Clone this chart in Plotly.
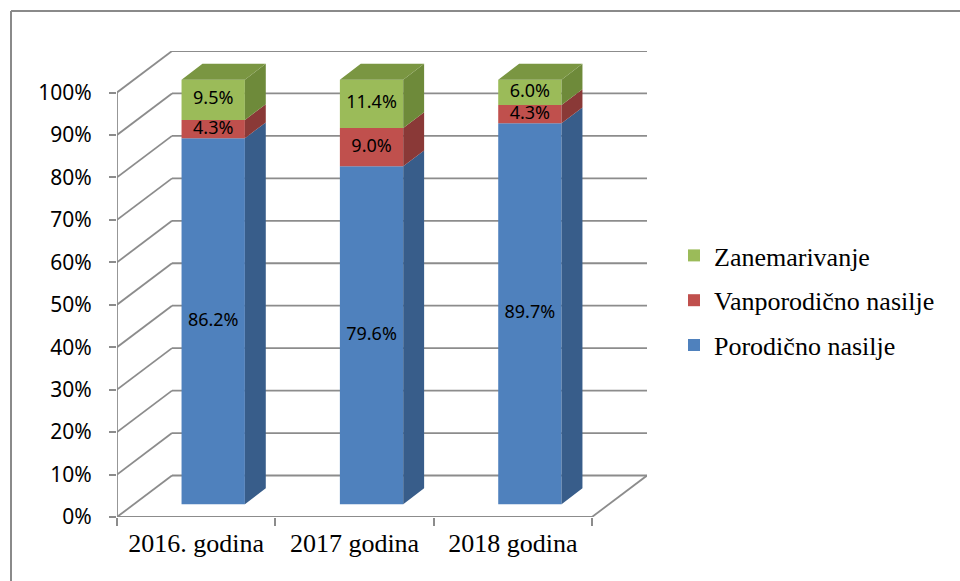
import plotly.graph_objects as go

# ---------------- data ----------------
categories = ["2016. godina", "2017 godina", "2018 godina"]
series_names = ["Porodično nasilje", "Vanporodično nasilje", "Zanemarivanje"]
porodicno = [86.2, 79.6, 89.7]
vanporodicno = [4.3, 9.0, 4.3]
zanemarivanje = [9.5, 11.4, 6.0]
y_ticks = [0, 10, 20, 30, 40, 50, 60, 70, 80, 90, 100]
y_tick_labels = ["0%", "10%", "20%", "30%", "40%", "50%", "60%", "70%", "80%", "90%", "100%"]

series_values = [porodicno, vanporodicno, zanemarivanje]
front_colors = ["#4F81BD", "#C0504D", "#9BBB59"]
side_colors = ["#385D8A", "#8A3937", "#6E8A3A"]
top_color = "#7A9642"
grid_color = "#8C8C8C"

# ---------------- geometry (pixels) ----------------
W, H = 960, 581
ML, MR, MT, MB = 117, 313, 51, 64
PW, PH = W - ML - MR, H - MT - MB
DEPTH_X, DEPTH_Y = 55, 41.5          # oblique depth of the 3-D box
n = len(categories)
cat_px = (PW - DEPTH_X) / n
pct_px = (PH - DEPTH_Y) / 100.0
ux = DEPTH_X / cat_px                 # depth in x data units
uy = DEPTH_Y / pct_px                 # depth in y data units
x_range = [-0.5, n - 0.5 + ux]
y_range = [0, 100 + uy]
FRONT, BACK = 0.31, 0.69              # bar depth position (fraction of box depth)
BAR_W = 0.4

fig = go.Figure()

# front faces (real bars)
bases = [[0.0] * n]
for k in range(1, len(series_values)):
    bases.append([bases[k - 1][i] + series_values[k - 1][i] for i in range(n)])

legend_ranks = [3, 2, 1]
for k, vals in enumerate(series_values):
    fig.add_trace(go.Bar(
        x=categories, y=vals,
        base=[b + FRONT * uy for b in bases[k]],
        width=BAR_W, offset=-BAR_W / 2 + FRONT * ux,
        marker=dict(color=front_colors[k], line=dict(width=0)),
        name=series_names[k], legendgroup=series_names[k], legendrank=legend_ranks[k],
        hoverinfo="skip",
    ))

# side faces
for k, vals in enumerate(series_values):
    xs, ys = [], []
    for i in range(n):
        xr_f = i + BAR_W / 2 + FRONT * ux
        xr_b = i + BAR_W / 2 + BACK * ux
        yb, yt = bases[k][i], bases[k][i] + vals[i]
        xs += [xr_f, xr_b, xr_b, xr_f, xr_f, None]
        ys += [yb + FRONT * uy, yb + BACK * uy, yt + BACK * uy, yt + FRONT * uy, yb + FRONT * uy, None]
    fig.add_trace(go.Scatter(x=xs, y=ys, xaxis="x2", mode="lines", fill="toself",
                             fillcolor=side_colors[k], line=dict(width=0, color=side_colors[k]),
                             showlegend=False, hoverinfo="skip"))

# top faces
xs, ys = [], []
for i in range(n):
    top = bases[-1][i] + series_values[-1][i]
    xl_f = i - BAR_W / 2 + FRONT * ux
    xr_f = i + BAR_W / 2 + FRONT * ux
    xl_b = i - BAR_W / 2 + BACK * ux
    xr_b = i + BAR_W / 2 + BACK * ux
    xs += [xl_f, xr_f, xr_b, xl_b, xl_f, None]
    ys += [top + FRONT * uy, top + FRONT * uy, top + BACK * uy, top + BACK * uy, top + FRONT * uy, None]
fig.add_trace(go.Scatter(x=xs, y=ys, xaxis="x2", mode="lines", fill="toself",
                         fillcolor=top_color, line=dict(width=0, color=top_color),
                         showlegend=False, hoverinfo="skip"))

# data labels
lx, ly, lt = [], [], []
for k, vals in enumerate(series_values):
    for i in range(n):
        lx.append(i + FRONT * ux)
        ly.append(bases[k][i] + vals[i] / 2 + FRONT * uy)
        lt.append(f"{vals[i]:.1f}%")
fig.add_trace(go.Scatter(x=lx, y=ly, text=lt, xaxis="x2", mode="text",
                         textfont=dict(family="Noto Sans", size=18, color="#000000"),
                         showlegend=False, hoverinfo="skip", cliponaxis=False))

# walls, grid and floor
shapes = []
line = dict(color=grid_color, width=1.8)
for v in y_ticks:
    shapes.append(dict(type="line", xref="x2", yref="y", layer="below",
                       x0=-0.5 + ux, x1=n - 0.5 + ux, y0=v + uy, y1=v + uy, line=line))
    shapes.append(dict(type="line", xref="x2", yref="y", layer="below",
                       x0=-0.5, x1=-0.5 + ux, y0=v, y1=v + uy, line=line))
shapes.append(dict(type="line", xref="x2", yref="y", layer="below",
                   x0=-0.5, x1=n - 0.5, y0=0, y1=0, line=line))
shapes.append(dict(type="line", xref="x2", yref="y", layer="below",
                   x0=n - 0.5, x1=n - 0.5 + ux, y0=0, y1=uy, line=line))
shapes.append(dict(type="line", xref="x2", yref="y", layer="below",
                   x0=-0.5, x1=-0.5, y0=0, y1=100, line=line))
# chart frame
px2x = lambda p: (p - ML) / PW
px2y = lambda p: 1 - (p - MT) / PH
frame = dict(color="#8A8A8A", width=2)
shapes.append(dict(type="line", xref="paper", yref="paper", x0=px2x(11), x1=px2x(960),
                   y0=px2y(11), y1=px2y(11), line=frame))
shapes.append(dict(type="line", xref="paper", yref="paper", x0=px2x(11), x1=px2x(11),
                   y0=px2y(11), y1=px2y(590), line=frame))

fig.update_layout(
    width=W, height=H,
    margin=dict(l=ML, r=MR, t=MT, b=MB, pad=0, autoexpand=False),
    paper_bgcolor="white", plot_bgcolor="white",
    barmode="overlay",
    shapes=shapes,
    showlegend=True,
    legend=dict(x=px2x(674), y=px2y(232), xanchor="left", yanchor="top",
                traceorder="grouped", tracegroupgap=8,
                font=dict(family="Liberation Serif", size=26, color="#000000"),
                bgcolor="rgba(0,0,0,0)"),
    xaxis=dict(type="category", range=x_range, showgrid=False, zeroline=False, showline=False,
               automargin=False,
               tickson="boundaries", ticks="outside", ticklen=8, tickwidth=1.8, tickcolor=grid_color,
               ticklabelstandoff=8,
               tickfont=dict(family="Liberation Serif", size=26, color="#000000"),
               fixedrange=True),
    xaxis2=dict(overlaying="x", range=x_range, visible=False, fixedrange=True, automargin=False),
    yaxis=dict(range=y_range, tickvals=y_ticks, ticktext=y_tick_labels, showgrid=False,
               automargin=False,
               zeroline=False, showline=False, ticks="outside", ticklen=7, tickwidth=1.8,
               tickcolor=grid_color, ticklabelstandoff=13,
               tickfont=dict(family="Noto Sans", size=21, color="#000000"), fixedrange=True),
)

fig.write_html("out.html", config={"displayModeBar": False},
               post_script="document.body.style.margin='0';document.body.style.padding='0';")
